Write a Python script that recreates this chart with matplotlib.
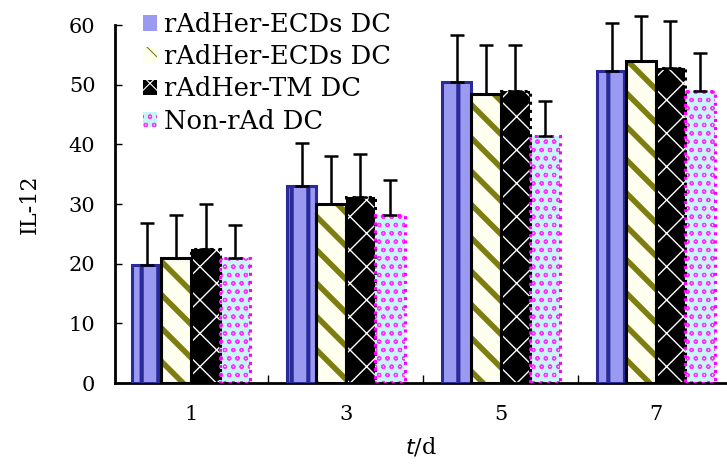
import matplotlib
matplotlib.use("Agg")
import matplotlib.pyplot as plt
import numpy as np

categories = ["1", "3", "5", "7"]
series_names = ["rAdHer-ECDs DC", "rAdHer-ECDs DC", "rAdHer-TM DC", "Non-rAd DC"]
means = [
    [19.8, 33.0, 50.5, 52.3],
    [21.0, 30.0, 48.5, 54.0],
    [22.5, 31.2, 49.0, 52.8],
    [21.0, 28.2, 41.4, 49.0],
]
errs = [
    [7.0, 7.2, 7.8, 8.0],
    [7.2, 8.0, 8.1, 7.5],
    [7.5, 7.2, 7.6, 7.9],
    [5.5, 5.8, 5.9, 6.3],
]

plt.rcParams['font.family'] = ['DejaVu Serif']

fig = plt.figure(figsize=(7.27, 4.66), dpi=100)
ax = fig.add_axes([0.158, 0.178, 0.842, 0.768])

x = np.arange(len(categories))
w = 0.19
offsets = (np.arange(4) - 1.5) * w

styles = [
    dict(face="#9a9af0", hatch="|", hcol="#2a2a9a", edge="#2a2a9a", hlw=3.0, ls="-"),
    dict(face="#fffff0", hatch="\\", hcol="#7d7d10", edge="black", hlw=4.0, ls="-"),
    dict(face="black", hatch="x", hcol="white", edge="black", hlw=1.0, ls=":"),
    dict(face="#c8f4f8", hatch="oo", hcol="#ff30ff", edge="#ff00ff", hlw=0.8, ls=":"),
]

handles = []
for i in range(4):
    st = styles[i]
    plt.rcParams['hatch.linewidth'] = st["hlw"]
    b = ax.bar(x + offsets[i], means[i], w, color=st["face"], hatch=st["hatch"],
               edgecolor=st["hcol"], linewidth=0, zorder=2)
    ax.bar(x + offsets[i], means[i], w, color="none", edgecolor=st["edge"],
           linewidth=2.2, linestyle=st["ls"], zorder=3)
    eb = ax.errorbar(x + offsets[i], means[i], yerr=[np.zeros(4), errs[i]], fmt="none",
                     ecolor="black", elinewidth=1.8, capsize=5, capthick=1.8, zorder=4)
    for art in eb.lines[1] + eb.lines[2]:
        art.set_clip_on(False)
    handles.append(b)

ax.set_ylim(0, 60)
ax.set_xlim(-0.49, 3.46)
ax.set_yticks(np.arange(0, 61, 10))
ax.set_xticks(x)
ax.set_xticklabels(categories)
ax.set_xticks([0.5, 1.5, 2.5], minor=True)
ax.tick_params(axis="x", which="major", length=0, labelsize=15, pad=16)
ax.tick_params(axis="x", which="minor", direction="in", length=6, width=1)
ax.tick_params(axis="y", direction="in", length=5, width=1, labelsize=15, pad=14)
for s in ["top", "right"]:
    ax.spines[s].set_visible(False)
ax.spines["left"].set_linewidth(2)
ax.spines["bottom"].set_linewidth(2)

ax.set_ylabel("IL-12", fontsize=16, labelpad=20)
ax.set_xlabel(r"$\it{t}$/d", fontsize=16, labelpad=8)

leg = ax.legend(handles, series_names, loc="upper left", bbox_to_anchor=(0.02, 1.08),
                frameon=False, fontsize=18.5, handlelength=0.55, handleheight=0.55,
                handletextpad=0.3, labelspacing=0.28, borderaxespad=0.2)

fig.savefig("out.png", dpi=100)
